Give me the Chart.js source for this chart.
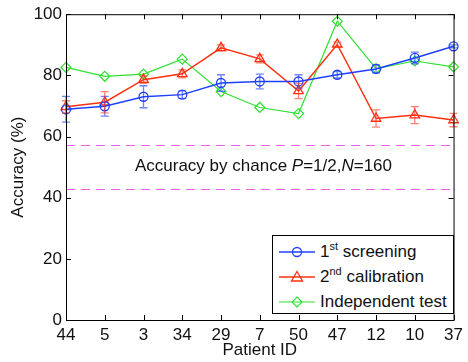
<!DOCTYPE html>
<html>
<head>
<meta charset="utf-8">
<script src="https://cdn.jsdelivr.net/npm/chart.js@4.4.1/dist/chart.umd.min.js"></script>
<style>
body { margin: 0; background: #fff; font-family: "Liberation Sans", Arial, sans-serif; }
#wrap { position: relative; width: 468px; height: 362px; }
.note { position: absolute; left: 0; width: 527px; top: 156px; text-align: center; font-size: 17px; line-height: 20px; color: #111; }
.legend { position: absolute; left: 272px; top: 235px; width: 182px; height: 79px; border: 1px solid #000; background: #fff; box-sizing: border-box; }
.row { position: absolute; left: 0; height: 22px; width: 180px; font-size: 17px; line-height: 22px; color: #111; }
.row svg { position: absolute; left: 6px; top: 0; }
.row span.t { position: absolute; left: 47px; top: 0; white-space: nowrap; }
sup { font-size: 11px; vertical-align: 7px; line-height: 0; }
</style>
</head>
<body>
<div id="wrap">
  <canvas id="chart" width="468" height="362"></canvas>
  <div class="note">Accuracy by chance <i>P</i>=1/2,<i>N</i>=160</div>
  <div class="legend">
    <div class="row" style="top:5px">
      <svg width="38" height="22"><line x1="0" y1="11" x2="36" y2="11" stroke="#2040ff" stroke-width="1.5"/><circle cx="18" cy="11" r="4.5" fill="none" stroke="#2040ff" stroke-width="1.3"/></svg>
      <span class="t">1<sup>st</sup> screening</span>
    </div>
    <div class="row" style="top:30px">
      <svg width="38" height="22"><line x1="0" y1="11" x2="36" y2="11" stroke="#ff3010" stroke-width="1.5"/><polygon points="18,5.5 23.5,15 12.5,15" fill="none" stroke="#ff3010" stroke-width="1.3"/></svg>
      <span class="t">2<sup>nd</sup> calibration</span>
    </div>
    <div class="row" style="top:55px">
      <svg width="38" height="22"><line x1="0" y1="11" x2="36" y2="11" stroke="#30e030" stroke-width="1.2"/><polygon points="18,6 23,11 18,16 13,11" fill="none" stroke="#30e030" stroke-width="1.2"/></svg>
      <span class="t">Independent test</span>
    </div>
  </div>
</div>
<script>
// patient ids along the x axis
const patients = ['44', '5', '3', '34', '29', '7', '50', '47', '12', '10', '37'];

const screening = [68.9, 69.9, 73.0, 73.7, 77.5, 78.0, 78.0, 80.2, 82.1, 85.7, 89.5];
const screeningErr = [4.2, 3.2, 3.6, 1.2, 2.7, 2.4, 2.2, 1.0, 1.3, 1.9, 0.5];

const calibration = [69.7, 71.2, 78.6, 80.5, 89.0, 85.4, 74.9, 90.1, 65.9, 67.0, 65.4];
const calibrationErr = [2.0, 3.5, 1.2, 1.3, 1.0, 1.3, 2.5, 0.8, 2.8, 2.8, 2.2];

const independent = [82.6, 79.7, 80.4, 85.3, 74.7, 69.5, 67.5, 97.7, 82.2, 84.7, 82.8];

// chance level bounds (dashed lines)
const chanceLevels = [57.3, 42.7];
const yTicks = [0, 20, 40, 60, 80, 100];

const errors = [screeningErr, calibrationErr, null];
const errColors = ['rgba(32,64,255,0.65)', 'rgba(255,48,16,0.6)', null];

const chancePlugin = {
    id: 'chance',
    beforeDatasetsDraw(chart) {
        const { ctx, chartArea: a, scales: { y } } = chart;
        ctx.save();
        ctx.strokeStyle = '#f060f0';
        ctx.lineWidth = 1;
        ctx.setLineDash([9, 6]);
        chanceLevels.forEach(v => {
            const py = Math.round(y.getPixelForValue(v)) + 0.5;
            ctx.beginPath();
            ctx.moveTo(a.left, py);
            ctx.lineTo(a.right, py);
            ctx.stroke();
        });
        ctx.restore();
    }
};

const errorBarPlugin = {
    id: 'errorBars',
    afterDatasetsDraw(chart) {
        const { ctx, scales: { y } } = chart;
        ctx.save();
        ctx.lineWidth = 1.3;
        chart.data.datasets.forEach((ds, i) => {
            const err = errors[i];
            if (!err) return;
            const meta = chart.getDatasetMeta(i);
            ctx.strokeStyle = errColors[i];
            meta.data.forEach((pt, j) => {
                const v = ds.data[j];
                const top = y.getPixelForValue(v + err[j]);
                const bot = y.getPixelForValue(v - err[j]);
                ctx.beginPath();
                ctx.moveTo(pt.x, top); ctx.lineTo(pt.x, bot);
                ctx.moveTo(pt.x - 4, top); ctx.lineTo(pt.x + 4, top);
                ctx.moveTo(pt.x - 4, bot); ctx.lineTo(pt.x + 4, bot);
                ctx.stroke();
            });
        });
        ctx.restore();
    }
};

const boxPlugin = {
    id: 'box',
    afterDraw(chart) {
        const { ctx, chartArea: a, scales: { x, y } } = chart;
        ctx.save();
        ctx.strokeStyle = '#000';
        ctx.lineWidth = 1;
        ctx.strokeRect(a.left + 0.5, a.top + 0.5, a.right - a.left, a.bottom - a.top);
        ctx.beginPath();
        yTicks.forEach(v => {
            const py = Math.round(y.getPixelForValue(v)) + 0.5;
            ctx.moveTo(a.left, py); ctx.lineTo(a.left + 5, py);
            ctx.moveTo(a.right, py); ctx.lineTo(a.right - 5, py);
        });
        patients.forEach((p, i) => {
            const px = Math.round(x.getPixelForValue(i)) + 0.5;
            ctx.moveTo(px, a.bottom); ctx.lineTo(px, a.bottom - 5);
            ctx.moveTo(px, a.top); ctx.lineTo(px, a.top + 5);
        });
        ctx.stroke();
        ctx.restore();
    }
};

const font = { family: '"Liberation Sans", Arial, sans-serif', size: 17 };

new Chart(document.getElementById('chart').getContext('2d'), {
    type: 'line',
    data: {
        labels: patients,
        datasets: [
            {
                label: '1st screening', data: screening,
                borderColor: '#2040ff', backgroundColor: 'transparent',
                borderWidth: 1.5, pointStyle: 'circle', pointRadius: 4.5,
                pointBorderWidth: 1.3, pointBackgroundColor: 'transparent'
            },
            {
                label: '2nd calibration', data: calibration,
                borderColor: '#ff3010', backgroundColor: 'transparent',
                borderWidth: 1.5, pointStyle: 'triangle', pointRadius: 5.5,
                pointBorderWidth: 1.3, pointBackgroundColor: 'transparent'
            },
            {
                label: 'Independent test', data: independent,
                borderColor: '#30e030', backgroundColor: 'transparent',
                borderWidth: 1.2, pointStyle: 'rectRot', pointRadius: 5,
                pointBorderWidth: 1.2, pointBackgroundColor: 'transparent'
            }
        ]
    },
    options: {
        responsive: false,
        animation: false,
        layout: { padding: { left: 0, right: 8, top: 14, bottom: 0 } },
        plugins: {
            legend: { display: false },
            tooltip: { enabled: false }
        },
        scales: {
            x: {
                type: 'category',
                offset: false,
                grid: { display: false, drawTicks: false },
                border: { display: false },
                ticks: { color: '#111', font: font, padding: 5, maxRotation: 0, autoSkip: false },
                title: { display: true, text: 'Patient ID', color: '#111', font: font, padding: { top: 0, bottom: 1 } },
                afterFit(scale) { scale.height = 42; }
            },
            y: {
                min: 0, max: 100,
                grid: { display: false, drawTicks: false },
                border: { display: false },
                ticks: { color: '#111', font: font, padding: 4, stepSize: 20 },
                title: { display: true, text: 'Accuracy (%)', color: '#111', font: font, padding: { top: 8, bottom: 0 } },
                afterFit(scale) { scale.width = 66; }
            }
        }
    },
    plugins: [chancePlugin, errorBarPlugin, boxPlugin]
});
</script>
</body>
</html>
